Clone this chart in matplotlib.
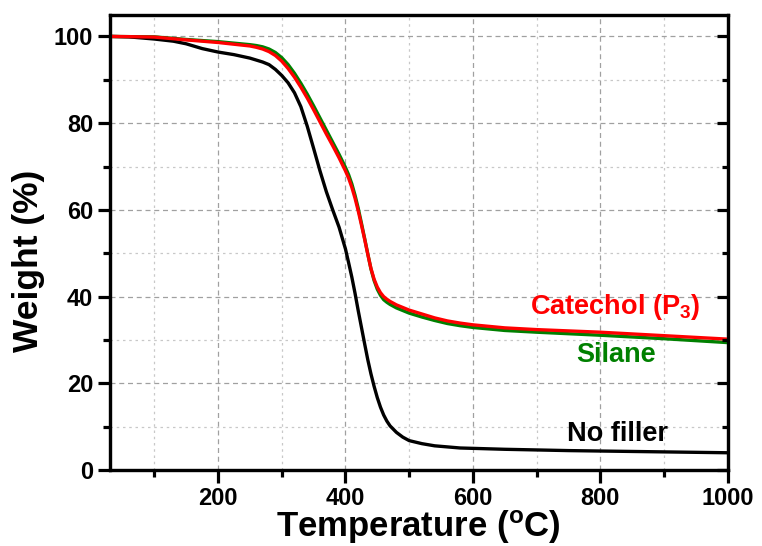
import matplotlib
matplotlib.use("Agg")
import matplotlib.pyplot as plt
from matplotlib.ticker import MultipleLocator

# ---- data ----
temp_nofiller = [30, 60, 100, 130, 150, 175, 200, 225, 250, 270, 280, 290, 300, 310, 320, 330,
                 340, 350, 360, 370, 380, 390, 400, 405, 410, 415, 420, 425, 430, 435, 440,
                 445, 450, 455, 460, 465, 470, 480, 490, 500, 520, 540, 580, 650, 750, 850, 1000]
w_nofiller = [100, 99.9, 99.4, 98.9, 98.3, 97.2, 96.4, 95.8, 95.0, 94.1, 93.5, 92.4, 91.0, 89.3, 87.0, 83.8,
              79.3, 74.2, 69.0, 64.2, 60.0, 56.0, 51.0, 47.8, 44.5, 40.8, 36.8, 33.0, 29.2, 25.5, 22.2,
              19.3, 16.7, 14.5, 12.7, 11.3, 10.2, 8.7, 7.6, 6.8, 6.1, 5.6, 5.1, 4.8, 4.5, 4.3, 4.0]

temp_filled = [30, 60, 100, 150, 200, 250, 260, 270, 280, 290, 300, 310, 320, 330, 340, 350,
               360, 370, 380, 390, 400, 405, 410, 415, 420, 425, 430, 435, 440, 445, 450,
               455, 460, 465, 470, 480, 490, 500, 520, 540, 560, 580, 600, 650, 700, 800, 900, 1000]
w_catechol = [100, 99.95, 99.85, 99.2, 98.6, 97.8, 97.5, 97.1, 96.5, 95.6, 94.3, 92.6, 90.6, 88.3, 85.8, 83.1,
              80.3, 77.5, 74.8, 72.0, 69.0, 67.3, 65.2, 62.7, 59.8, 56.6, 53.3, 49.8, 46.5, 44.0, 42.2,
              40.9, 40.0, 39.4, 38.9, 38.1, 37.5, 36.9, 36.0, 35.1, 34.4, 33.9, 33.5, 32.8, 32.4, 31.8, 31.0, 30.2]
w_silane = [100, 99.95, 99.9, 99.3, 98.8, 98.1, 97.9, 97.6, 97.1, 96.3, 95.1, 93.5, 91.5, 89.2, 86.7, 84.0,
            81.2, 78.4, 75.6, 72.8, 69.8, 68.1, 66.0, 63.4, 60.4, 57.0, 53.5, 49.9, 46.4, 43.7, 41.7,
            40.3, 39.3, 38.7, 38.2, 37.4, 36.8, 36.2, 35.3, 34.5, 33.8, 33.3, 32.9, 32.2, 31.8, 31.1, 30.3, 29.4]

x_label = r"Temperature ($^{\mathrm{o}}$C)"
y_label = "Weight (%)"
label_catechol = r"Catechol (P$_{\mathrm{3}}$)"
label_silane = "Silane"
label_nofiller = "No filler"

# ---- style ----
FONT = "Liberation Sans"
plt.rcParams["font.family"] = [FONT, "DejaVu Sans"]
plt.rcParams["font.weight"] = "bold"
plt.rcParams["mathtext.fontset"] = "custom"
plt.rcParams["mathtext.rm"] = FONT + ":bold"
plt.rcParams["mathtext.it"] = FONT + ":bold"
plt.rcParams["mathtext.bf"] = FONT + ":bold"
plt.rcParams["xtick.labelsize"] = 17
plt.rcParams["ytick.labelsize"] = 17

fig = plt.figure(figsize=(7.62, 5.46), dpi=100)
ax = fig.add_axes([0.144, 0.139, 0.811, 0.834])

ax.plot(temp_filled, w_silane, color="#008000", lw=2.4, zorder=3)
ax.plot(temp_filled, w_catechol, color="#ff0000", lw=2.4, zorder=4)
ax.plot(temp_nofiller, w_nofiller, color="black", lw=2.4, zorder=3)

ax.set_xlim(30, 1000)
ax.set_ylim(0, 105)
ax.xaxis.set_major_locator(MultipleLocator(200))
ax.xaxis.set_minor_locator(MultipleLocator(100))
ax.yaxis.set_major_locator(MultipleLocator(20))
ax.yaxis.set_minor_locator(MultipleLocator(10))

ax.grid(which="major", ls=(0, (4, 3)), color="#a0a0a0", lw=0.9)
ax.grid(which="minor", ls=(0, (2, 3)), color="#c8c8c8", lw=0.9)
ax.set_axisbelow(True)

for s in ax.spines.values():
    s.set_linewidth(2.3)

ax.tick_params(which="major", direction="out", length=9, width=2.3,
               labelsize=17, pad=3, top=False, right=False)
ax.tick_params(which="minor", direction="out", length=5, width=2.3, top=False, right=False)

# right-hand spine ticks point inward
axr = ax.twinx()
axr.set_ylim(ax.get_ylim())
axr.yaxis.set_major_locator(MultipleLocator(20))
axr.yaxis.set_minor_locator(MultipleLocator(10))
axr.tick_params(which="major", direction="in", length=8, width=2.3, labelright=False, left=False)
axr.tick_params(which="minor", direction="in", length=4, width=2.3, labelright=False, left=False)
for s in axr.spines.values():
    s.set_linewidth(2.3)

ax.set_xlabel(x_label, fontsize=25, fontweight="bold", labelpad=-1)
ax.set_ylabel(y_label, fontsize=25.5, fontweight="bold")
ax.yaxis.set_label_coords(-0.105, 0.459)

ax.text(689, 36, label_catechol, color="#ff0000", fontsize=19.5, fontweight="bold",
        ha="left", va="baseline")
ax.text(763, 24.9, label_silane, color="#008000", fontsize=19.5, fontweight="bold",
        ha="left", va="baseline")
ax.text(747, 6.7, label_nofiller, color="black", fontsize=19.5, fontweight="bold",
        ha="left", va="baseline")

fig.savefig("out.png", dpi=100)
